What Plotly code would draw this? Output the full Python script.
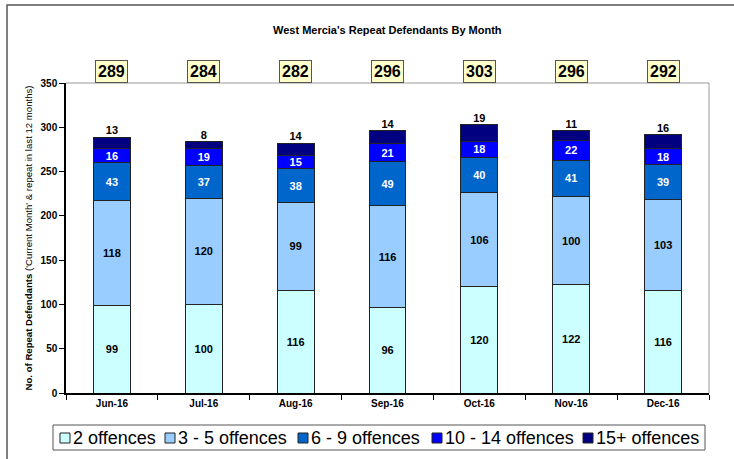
import plotly.graph_objects as go

months = ["Jun-16", "Jul-16", "Aug-16", "Sep-16", "Oct-16", "Nov-16", "Dec-16"]
two = [99, 100, 116, 96, 120, 122, 116]
three_five = [118, 120, 99, 116, 106, 100, 103]
six_nine = [43, 37, 38, 49, 40, 41, 39]
ten_fourteen = [16, 19, 15, 21, 18, 22, 18]
fifteen_plus = [13, 8, 14, 14, 19, 11, 16]
totals = [289, 284, 282, 296, 303, 296, 292]

FONT = "Liberation Sans, Arial, sans-serif"
W, H = 734, 459
L, R, T, B = 66, 25, 83, 66
PW, PH = W - L - R, H - T - B


def px_x(x):
    return (x - L) / PW


def px_y(y):
    return (H - B - y) / PH


series = [
    ("2 offences", two, "#CCFFFF", "black"),
    ("3 - 5 offences", three_five, "#99CCFF", "black"),
    ("6 - 9 offences", six_nine, "#0066CC", "white"),
    ("10 - 14 offences", ten_fourteen, "#0000FF", "white"),
    ("15+ offences", fifteen_plus, "#000080", None),
]

fig = go.Figure()
for name, vals, colour, txt in series:
    fig.add_trace(go.Bar(
        x=months, y=vals, name=name, showlegend=False,
        marker=dict(color=colour, line=dict(color="#222222", width=1)),
        text=[f"<b>{v}</b>" for v in vals] if txt else None,
        textposition="inside" if txt else "none",
        insidetextanchor="middle", textangle=0,
        textfont=dict(family=FONT, size=11, color=txt or "black"),
    ))

# 15+ labels sit above the bar top
fig.add_trace(go.Scatter(
    x=months, y=totals, mode="text", showlegend=False,
    text=[f"<b>{v}</b>" for v in fifteen_plus], textposition="top center",
    textfont=dict(family=FONT, size=11, color="black"), hoverinfo="skip",
))

# total boxes above plot
for m, t in zip(months, totals):
    fig.add_annotation(
        x=m, y=1.0, yref="paper", yanchor="bottom", yshift=0,
        text=f"<b>{t}</b>", showarrow=False,
        font=dict(family=FONT, size=16, color="black"),
        bgcolor="#FFFFCC", bordercolor="#555555", borderwidth=1, borderpad=2,
    )

fig.add_annotation(
    x=0.5, y=px_y(30), xref="paper", yref="paper", yanchor="middle",
    showarrow=False,
    text="<b>West Mercia's Repeat Defendants By Month</b>",
    font=dict(family=FONT, size=11, color="black"),
)

# outer chart frame
fig.add_shape(type="rect", xref="paper", yref="paper",
              x0=px_x(7), x1=px_x(745), y0=px_y(470), y1=px_y(5),
              line=dict(color="#555555", width=1.5))

# legend drawn by hand so it stays on one compact row like the original
fig.add_shape(type="rect", xref="paper", yref="paper",
              x0=px_x(53), x1=px_x(705), y0=px_y(450), y1=px_y(425),
              line=dict(color="#555555", width=1), fillcolor="white")
legend_x = [60, 165, 298, 432, 583]
for (name, _, colour, _), lx in zip(series, legend_x):
    fig.add_shape(type="rect", xref="paper", yref="paper",
                  x0=px_x(lx), x1=px_x(lx + 10), y0=px_y(443), y1=px_y(433),
                  line=dict(color="#222222", width=1), fillcolor=colour)
    fig.add_annotation(x=px_x(lx + 11), y=px_y(438), xref="paper", yref="paper",
                       xanchor="left", yanchor="middle", showarrow=False,
                       text=name, font=dict(family=FONT, size=18, color="black"))

fig.update_layout(
    width=W, height=H,
    margin=dict(l=L, r=R, t=T, b=B, autoexpand=False),
    barmode="stack", bargap=0.6,
    paper_bgcolor="white", plot_bgcolor="white",
    font=dict(family=FONT, color="black"),
    uniformtext=dict(minsize=10, mode="show"),
    showlegend=False,
    xaxis=dict(
        showline=True, linecolor="black", linewidth=1.5, mirror=False,
        ticks="outside", tickson="boundaries", ticklen=5, tickcolor="black",
        tickfont=dict(family=FONT, size=10), tickprefix="<b>", ticksuffix="</b>",
    ),
    yaxis=dict(
        range=[0, 350], dtick=50, showgrid=False,
        showline=True, linecolor="black", linewidth=1.5,
        ticks="outside", ticklen=5, tickcolor="black",
        tickfont=dict(family=FONT, size=10), tickprefix="<b>", ticksuffix="</b>",
        title=dict(
            text="<b>No. of Repeat Defendants</b> ('Current Month' & repeat in last 12 months)",
            font=dict(family=FONT, size=9.6), standoff=6,
        ),
    ),
)

# grey plot-area border on top and right
fig.add_shape(type="line", xref="paper", yref="paper", x0=0, x1=1, y0=1, y1=1,
              line=dict(color="#999999", width=1))
fig.add_shape(type="line", xref="paper", yref="paper", x0=1, x1=1, y0=0, y1=1,
              line=dict(color="#999999", width=1))

# drop the page's default body margin so the figure sits at the window corner
fig.write_html("out.html", config={"displayModeBar": False},
               post_script="document.body.style.margin = '0';")
